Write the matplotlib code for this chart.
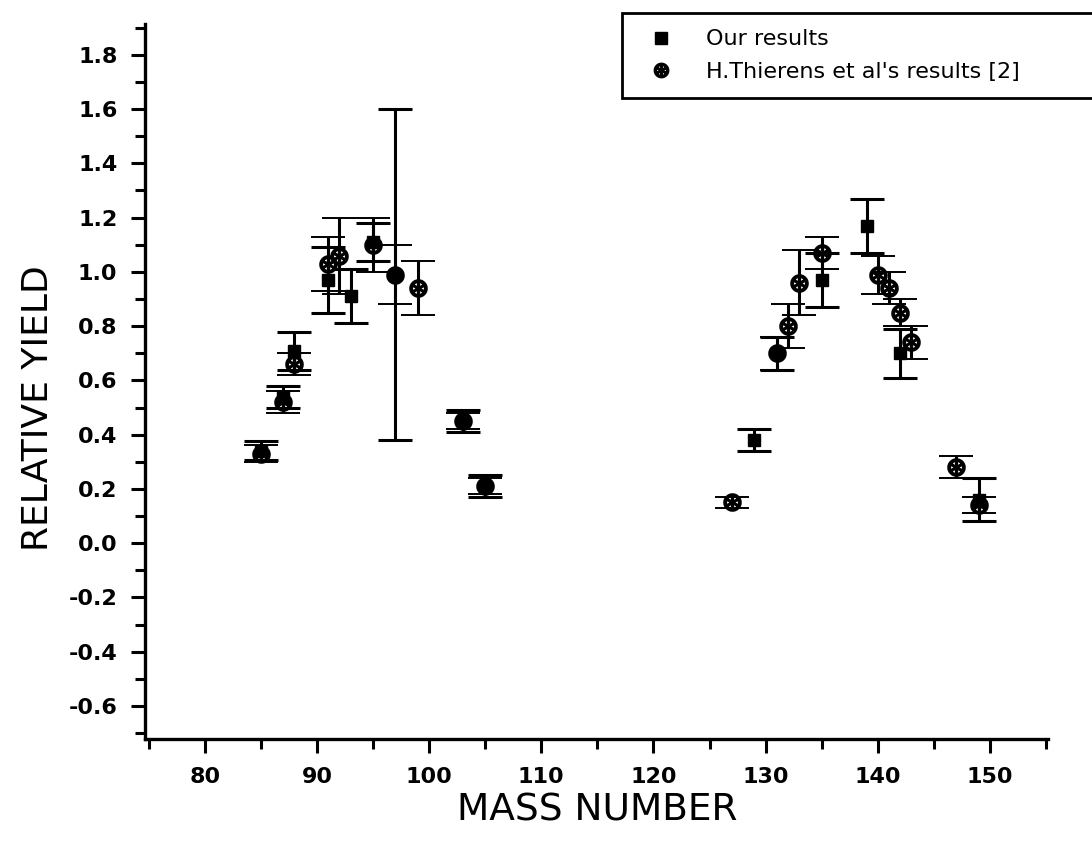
import matplotlib.pyplot as plt
from matplotlib.lines import Line2D
from matplotlib.ticker import MultipleLocator
import numpy as np

plt.rcParams['font.family'] = ['DejaVu Sans']

# our results (squares)
mass_ours = [85, 87, 88, 91, 93, 95, 97, 103, 105, 129, 131, 135, 139, 142, 149]
yield_ours = [0.34, 0.54, 0.71, 0.97, 0.91, 1.11, 0.99, 0.45, 0.21, 0.38, 0.70, 0.97, 1.17, 0.70, 0.16]
err_ours = [0.035, 0.04, 0.07, 0.12, 0.10, 0.07, 0.61, 0.04, 0.04, 0.04, 0.06, 0.10, 0.10, 0.09, 0.08]

# H. Thierens et al. (stars)
mass_thi = [85, 87, 88, 91, 92, 95, 97, 99, 103, 105, 127, 131, 132, 133, 135, 140, 141, 142, 143, 147, 149]
yield_thi = [0.33, 0.52, 0.66, 1.03, 1.06, 1.10, 0.99, 0.94, 0.45, 0.21, 0.15, 0.70, 0.80, 0.96,
             1.07, 0.99, 0.94, 0.85, 0.74, 0.28, 0.14]
err_thi = [0.03, 0.04, 0.04, 0.10, 0.14, 0.10, 0.11, 0.10, 0.03, 0.03, 0.02, 0.06, 0.08, 0.12,
           0.06, 0.07, 0.06, 0.05, 0.06, 0.04, 0.03]

fig = plt.figure(figsize=(10.92, 8.43), dpi=100)
ax = fig.add_axes([0.133, 0.123, 0.827, 0.849])

kw = dict(color='black', ecolor='black', elinewidth=2.2, capsize=12, capthick=2.2, linestyle='none')
ax.errorbar(mass_ours, yield_ours, yerr=err_ours, marker='s', markersize=9, **kw)
ax.errorbar(mass_thi, yield_thi, yerr=err_thi, marker=r'$\circledast$', markersize=12,
            markeredgewidth=1.4, **kw)

ax.set_xlim(74.7, 155.2)
ax.set_ylim(-0.723, 1.915)
ax.xaxis.set_minor_locator(MultipleLocator(5))
ax.yaxis.set_minor_locator(MultipleLocator(0.1))
ax.set_xticks(np.arange(80, 151, 10))
yt = np.round(np.arange(-0.6, 1.81, 0.2), 1)
ax.set_yticks(yt)
ax.set_yticklabels([f'{v:.1f}' for v in yt])

for s in ['top', 'right']:
    ax.spines[s].set_visible(False)
for s in ['left', 'bottom']:
    ax.spines[s].set_linewidth(2.4)

ax.tick_params(which='major', direction='out', length=10, width=2.2, labelsize=16, pad=10)
ax.tick_params(which='minor', direction='out', length=7, width=2.2)
for lab in ax.get_xticklabels() + ax.get_yticklabels():
    lab.set_fontweight('bold')

ax.set_xlabel('MASS NUMBER', fontsize=27, labelpad=4)
ax.set_ylabel('RELATIVE YIELD', fontsize=26)
ax.yaxis.set_label_coords(-0.1, 0.463)

handles = [
    Line2D([], [], color='black', marker='s', linestyle='none', markersize=8),
    Line2D([], [], color='black', marker=r'$\circledast$', linestyle='none', markersize=10,
           markeredgewidth=1.4),
]
leg = fig.legend(handles, ["Our results", "H.Thierens et al's results [2]"],
                 loc='upper left', bbox_to_anchor=(0.57, 0.87, 0.46, 0.115), mode='expand',
                 fontsize=16, frameon=True, fancybox=False, edgecolor='black', framealpha=1,
                 borderpad=0.75, handletextpad=1.0, labelspacing=0.55, borderaxespad=0)
leg.get_frame().set_linewidth(2)

fig.savefig('out.png', dpi=100)
